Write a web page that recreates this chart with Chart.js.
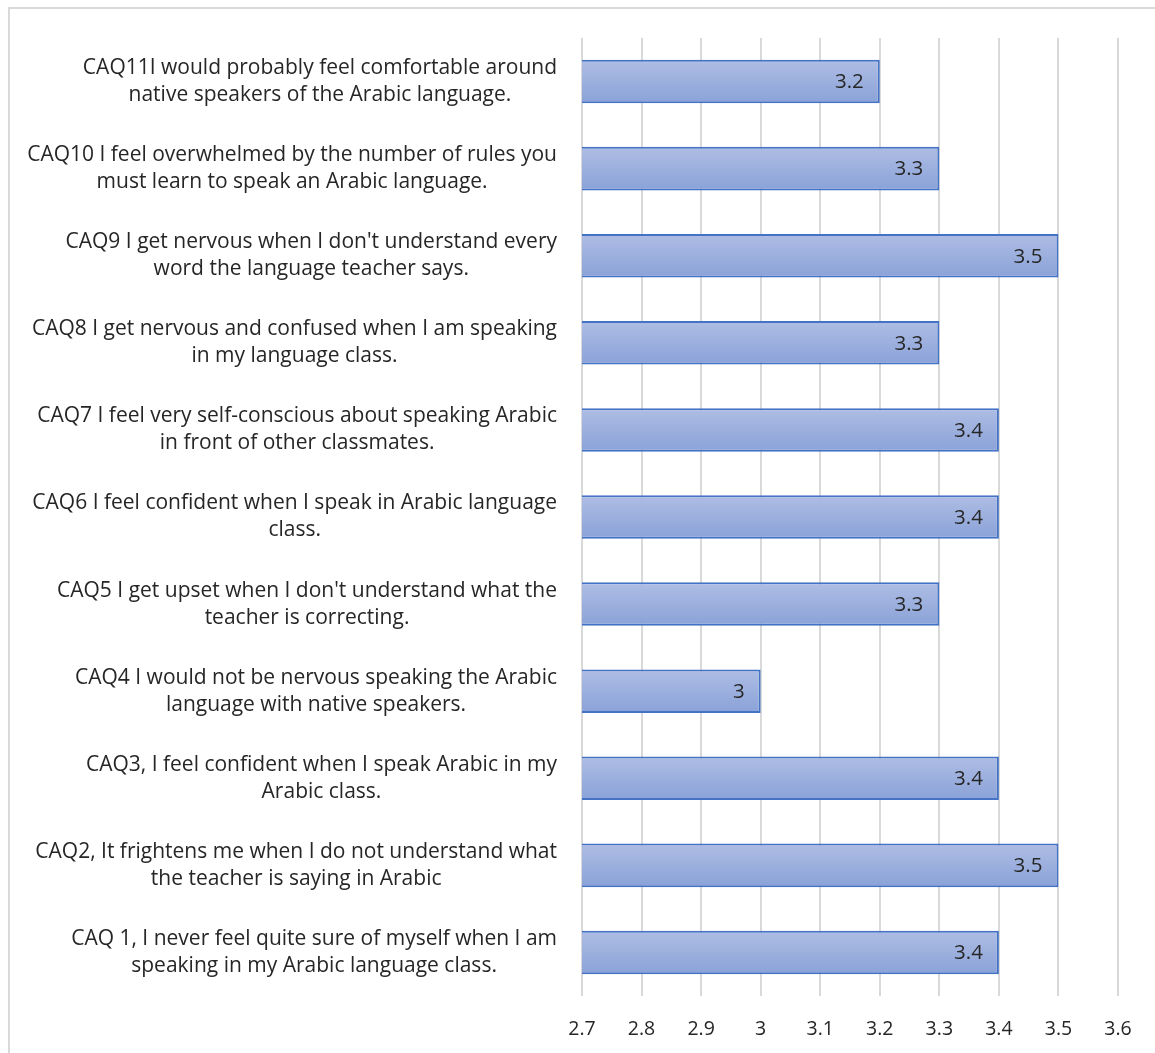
<!DOCTYPE html>
<html>
<head>
<meta charset="utf-8">
<script src="https://cdn.jsdelivr.net/npm/chart.js@4/dist/chart.umd.min.js"></script>
<style>
  html, body { margin: 0; padding: 0; background: #ffffff; overflow: hidden; }
  #frame { position: absolute; left: 8px; top: 7px; width: 1200px; height: 1100px; border: 2px solid #d9d9d9; box-sizing: border-box; }
  #wrap { position: absolute; left: 0; top: 0; width: 1155px; height: 1053px; }
</style>
</head>
<body>
<div id="frame"></div>
<div id="wrap"><canvas id="c" width="1155" height="1053"></canvas></div>
<script>
const categories = [
  ["CAQ11I would probably feel comfortable around", "native speakers of the Arabic language."],
  ["CAQ10 I feel overwhelmed by the number of rules you", "must learn to speak an Arabic language."],
  ["CAQ9 I get nervous when I don't understand every", "word the language teacher says."],
  ["CAQ8 I get nervous and confused when I am speaking", "in my language class."],
  ["CAQ7 I feel very self-conscious about speaking Arabic", "in front of other classmates."],
  ["CAQ6 I feel confident when I speak in Arabic language", "class."],
  ["CAQ5 I get upset when I don't understand what the", "teacher is correcting."],
  ["CAQ4 I would not be nervous speaking the Arabic", "language with native speakers."],
  ["CAQ3, I feel confident when I speak Arabic in my", "Arabic class."],
  ["CAQ2, It frightens me when I do not understand what", "the teacher is saying in Arabic"],
  ["CAQ 1, I never feel quite sure of myself when I am", "speaking in my Arabic language class."]
];
const values = [3.2, 3.3, 3.5, 3.3, 3.4, 3.4, 3.3, 3.0, 3.4, 3.5, 3.4];
const xTicks = [2.7, 2.8, 2.9, 3.0, 3.1, 3.2, 3.3, 3.4, 3.5, 3.6];

const FONT = "'Open Sans', Lato, sans-serif";

function fmt(v) { return String(Math.round(v * 10) / 10); }

// Category labels: block right-aligned, each line centred within the block
const catLabelPlugin = {
  id: 'catLabels',
  afterDraw(chart) {
    const ctx = chart.ctx;
    const y = chart.scales.y;
    ctx.save();
    ctx.font = "21px " + FONT;
    ctx.fillStyle = '#262626';
    ctx.textBaseline = 'middle';
    ctx.textAlign = 'center';
    const rightEdge = 557;
    const lineH = 27;
    categories.forEach((lines, i) => {
      const cy = y.getPixelForValue(i);
      const widths = lines.map(l => ctx.measureText(l).width);
      const bw = Math.max(...widths);
      const cx = rightEdge - bw / 2;
      const top = cy - (lines.length - 1) * lineH / 2;
      lines.forEach((l, k) => ctx.fillText(l, cx, top + k * lineH));
    });
    ctx.restore();
  }
};

// Value labels inside the end of each bar
const valueLabelPlugin = {
  id: 'valueLabels',
  afterDatasetsDraw(chart) {
    const ctx = chart.ctx;
    const meta = chart.getDatasetMeta(0);
    ctx.save();
    ctx.font = "20.5px " + FONT;
    ctx.fillStyle = '#262626';
    ctx.textBaseline = 'middle';
    ctx.textAlign = 'right';
    meta.data.forEach((bar, i) => {
      ctx.fillText(fmt(values[i]), bar.x - 16, bar.y + 1);
    });
    ctx.restore();
  }
};

function barGradient(context) {
  const chart = context.chart;
  const area = chart.chartArea;
  if (!area || !chart.scales.y) return '#9cb0de';
  const c = chart.scales.y.getPixelForValue(context.dataIndex);
  const g = chart.ctx.createLinearGradient(0, c - 22, 0, c + 22);
  g.addColorStop(0, '#aebde4');
  g.addColorStop(1, '#8aa2d8');
  return g;
}

new Chart(document.getElementById('c'), {
  type: 'bar',
  data: {
    labels: categories,
    datasets: [{
      data: values,
      backgroundColor: barGradient,
      borderColor: '#4472c4',
      borderWidth: 2,
      borderSkipped: 'start',
      barPercentage: 0.5,
      categoryPercentage: 1.0
    }]
  },
  options: {
    indexAxis: 'y',
    responsive: false,
    animation: false,
    devicePixelRatio: 1,
    layout: { padding: { left: 0, right: 37, top: 38, bottom: 0 } },
    plugins: { legend: { display: false }, tooltip: { enabled: false } },
    scales: {
      x: {
        min: 2.7,
        max: 3.6,
        afterBuildTicks(axis) { axis.ticks = xTicks.map(v => ({ value: v })); },
        afterFit(axis) { axis.height = 57; },
        border: { display: false },
        grid: { color: '#d9d9d9', lineWidth: 2, drawTicks: false },
        ticks: {
          padding: 22,
          color: '#262626',
          font: { family: FONT, size: 19.5 },
          callback: (v) => fmt(v),
          maxRotation: 0,
          autoSkip: false
        }
      },
      y: {
        afterFit(axis) { axis.width = 582; },
        border: { display: false },
        grid: { display: false },
        ticks: { display: false }
      }
    }
  },
  plugins: [catLabelPlugin, valueLabelPlugin]
});
</script>
</body>
</html>
